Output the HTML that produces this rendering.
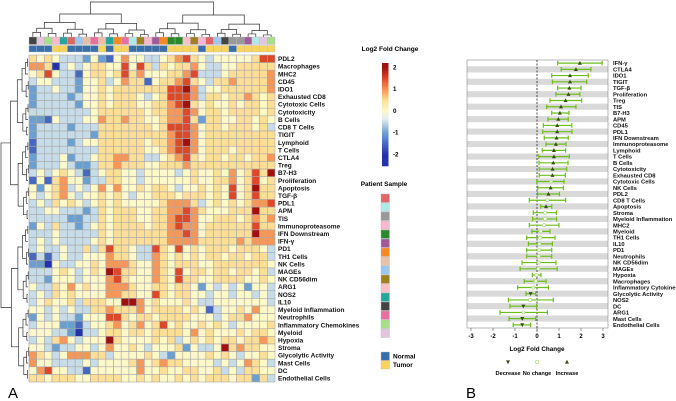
<!DOCTYPE html>
<html><head><meta charset="utf-8"><style>
html,body{margin:0;padding:0;background:#fff;}
svg{display:block;font-family:"Liberation Sans",sans-serif;}
</style></head><body>
<svg id="fig" width="676" height="401" viewBox="0 0 676 401">
<g id="heat"></g>
<g id="forest"></g>
<text x="8" y="398" font-size="15">A</text>
<text x="466" y="398" font-size="15">B</text>
</svg>
<script>
// ---------- Heatmap data ----------
const rowLabels = ["PDL2","Macrophages","MHC2","CD45","IDO1","Exhausted CD8","Cytotoxic Cells","Cytotoxicity","B Cells","CD8 T Cells","TIGIT","Lymphoid","T Cells","CTLA4","Treg","B7-H3","Proliferation","Apoptosis","TGF-β","PDL1","APM","TIS","Immunoproteasome","IFN Downstream","IFN-γ","PD1","TH1 Cells","NK Cells","MAGEs","NK CD56dim","ARG1","NOS2","IL10","Myeloid Inflammation","Neutrophils","Inflammatory Chemokines","Myeloid","Hypoxia","Stroma","Glycolytic Activity","Mast Cells","DC","Endothelial Cells"];
// values in half-units of log2 fold change (value = code/2)
const heatCodes = [
[1,0,1,0,-1,-1,-1,-2,0,-2,-3,0,2,0,0,-1,-1,0,1,2,3,1,0,-1,0,0,0,0,0,1,3,3],
[2,2,1,-4,-1,0,-1,0,1,1,0,0,3,0,3,1,-1,1,0,1,1,2,0,-1,-1,0,0,1,1,1,1,1],
[0,1,3,0,-1,-1,-3,0,1,1,0,1,3,1,2,0,0,0,1,1,2,3,-1,-1,-1,0,1,1,1,1,1,2],
[-1,0,0,-1,-1,-1,-2,0,0,1,-1,0,2,1,1,-3,0,1,1,2,3,1,0,-1,1,1,2,1,1,1,1,2],
[-2,-1,-1,0,-1,-1,-2,0,0,1,0,1,1,1,1,1,1,1,3,3,4,2,-1,0,0,1,1,1,1,1,1,2],
[-2,-1,-1,-1,-1,-2,-1,0,0,1,0,1,1,1,0,-1,0,1,3,3,3,2,-1,1,1,0,1,1,2,1,0,1],
[-2,-1,-1,-1,-1,-1,-2,0,0,1,0,1,1,1,0,0,1,1,2,3,4,1,0,1,0,0,1,0,1,1,0,1],
[-1,-1,-1,-1,-1,-1,-1,-1,0,1,1,1,1,1,1,0,1,1,2,2,3,2,0,1,1,0,1,1,1,1,0,1],
[-2,-2,-3,0,-1,-1,-1,0,0,2,1,1,2,1,1,0,0,1,2,2,3,1,-2,1,1,0,0,1,1,0,1,0],
[-2,-1,-1,-1,-1,-2,-1,-1,-1,1,1,1,1,1,1,1,0,1,3,3,3,2,0,1,1,0,1,1,1,0,1,-1],
[-2,-1,-1,-1,-1,-1,-1,-1,-2,1,1,1,1,1,1,1,1,1,2,3,3,2,0,1,1,1,1,1,1,1,1,1],
[-3,-1,-1,-1,-1,-2,-1,0,0,1,1,1,1,1,1,0,1,1,2,3,4,2,0,1,1,1,1,1,1,1,1,1],
[-3,-1,-1,-1,-1,-1,-1,-1,-1,1,1,1,1,1,1,0,0,1,2,3,3,2,0,1,1,1,0,1,1,1,1,1],
[-2,-1,-1,-1,0,-2,-1,-1,0,1,1,2,2,1,1,-1,-1,0,1,2,3,1,0,1,1,0,1,1,0,1,1,2],
[-2,-1,-1,-1,0,-1,-2,-2,-1,1,1,2,1,1,1,0,0,1,1,1,2,1,1,1,1,1,1,1,1,1,1,1],
[-1,0,-1,0,1,0,-1,-3,-1,0,1,1,0,0,-1,0,0,0,0,-1,0,1,0,0,1,0,2,0,1,3,1,4],
[-3,0,-3,1,2,0,0,-2,-1,-1,1,1,0,0,-1,0,0,0,0,0,0,1,0,0,1,1,2,0,1,3,0,1],
[0,-2,0,1,2,-1,0,-1,0,2,0,2,0,0,1,0,1,1,0,-1,0,0,1,0,1,0,3,0,1,4,1,1],
[0,-1,0,1,2,0,-1,0,0,1,0,1,0,-1,0,0,1,1,1,0,1,1,1,0,1,0,3,0,1,3,1,1],
[-1,0,-1,1,0,1,0,-1,0,1,0,1,0,0,0,0,0,1,2,2,2,1,-1,0,1,0,1,0,1,2,2,3],
[-1,-1,0,0,-1,-1,-1,-2,-1,1,0,1,1,1,0,0,1,1,2,2,3,2,1,0,0,0,1,1,1,4,1,1],
[-1,-1,-1,-1,-1,-2,-2,-1,-1,1,0,1,1,1,0,0,1,1,2,3,3,2,0,0,1,1,1,0,1,2,1,2],
[-2,0,-1,1,-1,-1,-2,-1,0,1,0,1,1,1,1,0,1,1,2,3,2,2,0,1,1,1,1,1,1,3,1,1],
[-1,-1,-1,0,-1,-1,-1,-1,-1,1,0,1,1,1,1,1,1,1,2,2,3,2,0,1,1,1,1,1,1,4,2,2],
[-1,0,-1,0,-1,-1,-1,-1,0,1,0,1,1,1,1,1,1,1,2,2,2,2,1,1,1,1,1,2,1,2,2,2],
[-1,0,-1,-1,0,-1,-1,1,-1,1,3,1,1,0,-1,-1,3,1,0,3,0,1,0,1,1,1,0,1,1,1,0,-1],
[-3,-1,-3,-1,0,-1,-1,0,0,0,2,1,1,0,-1,-1,2,1,0,1,0,1,0,1,1,0,1,1,0,1,1,-1],
[-2,-2,-4,0,-1,-1,0,0,1,0,2,2,2,1,0,0,2,1,0,1,1,1,0,0,1,1,1,1,1,1,1,0],
[-1,-1,-1,0,1,0,-1,0,1,0,4,3,1,1,0,0,2,1,0,3,0,1,1,0,1,1,0,1,1,0,1,-1],
[-1,-1,-2,0,0,0,-1,0,0,0,2,3,1,0,0,0,2,1,0,3,1,1,0,0,1,1,1,1,0,0,1,0],
[0,-1,-1,1,0,2,0,1,0,0,2,2,2,1,0,0,1,1,0,1,1,0,-2,0,-1,0,-1,0,-2,0,0,-1],
[-1,0,-1,1,0,1,0,0,0,0,2,2,1,1,0,0,3,1,0,1,1,0,0,-1,0,0,-1,0,0,-1,0,-1],
[-1,0,1,0,0,1,-1,1,1,1,0,0,4,4,2,0,1,0,0,0,1,0,-1,-1,0,0,0,0,0,0,0,-1],
[0,0,-1,0,-1,0,-1,-1,1,1,2,1,1,1,2,0,1,1,1,1,0,1,0,-3,-1,0,0,1,0,2,0,0],
[-2,0,-1,0,-1,-1,-2,0,0,0,3,3,1,0,1,1,0,1,1,1,1,0,0,0,-1,0,1,1,2,0,0,0],
[-1,0,0,0,-2,-2,-3,-1,0,0,1,2,0,1,2,0,1,3,0,1,0,0,1,0,1,0,-1,0,0,0,0,1],
[0,0,0,-1,-1,-2,-4,-1,-1,0,1,1,0,1,1,0,1,1,1,1,0,2,0,1,0,0,0,1,0,1,1,0],
[-1,0,-1,1,2,0,-1,0,0,0,4,1,0,0,0,0,1,0,1,-1,0,1,0,1,0,1,1,0,1,1,2,1],
[0,0,-1,-2,-1,-1,0,0,-1,0,2,0,0,1,0,-1,0,0,0,1,-2,0,-1,-1,0,4,1,2,1,1,0,0],
[2,1,0,-1,0,2,2,2,1,1,-1,0,0,0,0,1,0,-1,-2,0,0,0,0,1,0,1,0,-1,0,0,1,0],
[2,0,0,-1,-1,-1,-1,0,-1,0,0,0,0,1,2,0,1,2,1,1,0,0,0,0,-1,0,-1,0,2,1,0,-1],
[0,2,3,0,0,-1,-1,-3,0,0,0,0,0,0,2,0,0,1,0,0,1,1,0,0,1,-1,0,-1,1,1,0,0],
[1,1,0,1,1,1,0,0,1,1,1,1,0,0,1,0,1,0,0,1,0,1,0,1,1,1,0,1,1,-2,1,-1]
];
const sampleType = ["N","N","N","T","T","N","N","N","N","T","N","T","T","N","N","N","N","N","T","T","T","T","N","T","T","T","N","T","T","T","T","T"];
const patientColors = ["#444444","#e5c4e0","#a6e08a","#f9b7d0","#26a69a","#e06666","#9cc7ee","#e8c0a8","#e870a0","#e8c0a8","#26a69a","#f58a22","#e870a0","#b0e8e8","#a08020","#f9b7d0","#a05a9a","#f58a22","#2a8a2a","#2a8a2a","#ffc0c8","#a08020","#f9b7d0","#e06666","#9cc7ee","#444444","#999999","#999999","#a05a9a","#b0e8e8","#e5c4e0","#a6e08a"];
const legendPatients = ["#e06666","#b0e8e8","#999999","#f9b7d0","#2a8a2a","#a05a9a","#f58a22","#e8c0a8","#9cc7ee","#a08020","#ffc0c8","#26a69a","#444444","#e870a0","#a6e08a","#e5c4e0"];
const colorTicks = [2,1,0,-1,-2];

// ---------- Forest plot data ----------
const forestLabels = ["IFN-γ","CTLA4","IDO1","TIGIT","TGF-β","Proliferation","Treg","TIS","B7-H3","APM","CD45","PDL1","IFN Downstream","Immunoproteasome","Lymphoid","T Cells","B Cells","Cytotoxicity","Exhausted CD8","Cytotoxic Cells","NK Cells","PDL2","CD8 T Cells","Apoptosis","Stroma","Myeloid Inflammation","MHC2","Myeloid","TH1 Cells","IL10","PD1","Neutrophils","NK CD56dim","MAGEs","Hypoxia","Macrophages","Inflammatory Cytokines","Glycolytic Activity","NOS2","DC","ARG1","Mast Cells","Endothelial Cells"];
const forestEst = [1.95,1.77,1.5,1.5,1.47,1.43,1.3,1.09,1.04,0.97,0.92,0.92,0.89,0.86,0.77,0.77,0.74,0.71,0.7,0.64,0.62,0.52,0.47,0.41,0.37,0.37,0.32,0.17,0.14,0.11,0.09,0.08,0.08,0.06,-0.02,-0.06,-0.17,-0.29,-0.32,-0.62,-0.62,-0.67,-0.67];
const forestLo = [0.94,1.1,0.67,0.7,0.94,0.86,0.59,0.44,0.67,0.5,0.29,0.26,0.33,0.41,0.24,0.08,0.09,0.1,0.1,-0.01,0.04,0.03,-0.35,0.17,-0.17,-0.2,-0.35,-0.23,-0.47,-0.39,-0.47,-0.47,-0.68,-0.77,-0.21,-0.58,-0.88,-0.5,-1.3,-1.23,-1.68,-1.27,-1.08];
const forestHi = [2.96,2.45,2.33,2.26,2.0,1.95,2.03,1.77,1.45,1.42,1.58,1.59,1.42,1.32,1.3,1.47,1.41,1.35,1.29,1.23,1.2,1.02,1.3,0.67,0.88,0.89,1.0,0.59,0.82,0.7,0.67,0.67,0.86,0.92,0.18,0.41,0.52,-0.06,0.74,-0.02,0.47,-0.06,-0.29];
const xTicks = [-3,-2,-1,0,1,2,3];

const NS = "http://www.w3.org/2000/svg";
function mk(parent, tag, attrs, text) {
  const e = document.createElementNS(NS, tag);
  for (const k in attrs) e.setAttribute(k, attrs[k]);
  if (text !== undefined) e.textContent = text;
  parent.appendChild(e);
  return e;
}
const stops = [[-2,[34,51,170]],[-1,[106,159,208]],[-0.35,[226,238,240]],[0,[253,248,200]],[0.5,[253,222,150]],[1,[245,150,90]],[1.5,[222,72,42]],[2,[160,16,16]]];
function colorOf(v) {
  if (v <= stops[0][0]) return "rgb(" + stops[0][1] + ")";
  for (let i = 1; i < stops.length; i++) {
    if (v <= stops[i][0]) {
      const a = stops[i-1], b = stops[i], t = (v - a[0]) / (b[0] - a[0]);
      const c = a[1].map((x, j) => Math.round(x + (b[1][j] - x) * t));
      return "rgb(" + c + ")";
    }
  }
  return "rgb(" + stops[stops.length-1][1] + ")";
}

// ---------- Heatmap ----------
const H = document.getElementById("heat");
const hx0 = 29, hx1 = 275, hy0 = 55, hy1 = 382;
const nCols = heatCodes[0].length, nRows = rowLabels.length;
const cw = (hx1 - hx0) / nCols, ch = (hy1 - hy0) / nRows;
const colX = c => hx0 + c * cw;
const rowY = r => hy0 + r * ch;

// dendrograms (decorative)
function dendTop(lo, hi, top) {
  if (hi - lo < 1) return { x: colX(lo) + cw / 2, y: 37 };
  const mid = Math.floor((lo + hi) / 2);
  const y = top;
  const nt = top + (37 - top) * 0.3 + 1.5;
  const a = dendTop(lo, mid, nt), b = dendTop(mid + 1, hi, nt + 1);
  const p = mk(H, "path", { d: `M${a.x},${a.y}V${y}H${b.x}V${b.y}`, fill: "none", stroke: "#333", "stroke-width": 0.7 });
  
  
  return { x: (a.x + b.x) / 2, y };
}
dendTop(0, nCols - 1, 2);
function dendLeft(lo, hi, left) {
  if (hi - lo < 1) return { x: 28, y: rowY(lo) + ch / 2 };
  const mid = Math.floor((lo + hi) / 2);
  const nl = left + (28 - left) * 0.3 + 1.5;
  const a = dendLeft(lo, mid, nl), b = dendLeft(mid + 1, hi, nl + 0.8);
  const p = mk(H, "path", { d: `M${a.x},${a.y}H${left}V${b.y}H${b.x}`, fill: "none", stroke: "#333", "stroke-width": 0.7 });
  
  
  return { x: left, y: (a.y + b.y) / 2 };
}
dendLeft(0, nRows - 1, 1);

// annotations
for (let c = 0; c < nCols; c++) {
  const a = mk(H, "rect", { x: colX(c), y: 37, width: cw, height: 7.5, fill: patientColors[c], stroke: "#bbb", "stroke-width": 0.4 });
  
  
  const b = mk(H, "rect", { x: colX(c), y: 45.5, width: cw, height: 6.5, fill: sampleType[c] === "N" ? "#3a6ea8" : "#f9d45c", stroke: "#bbb", "stroke-width": 0.4 });
  
  
}
// cells
for (let r = 0; r < nRows; r++) {
  for (let c = 0; c < nCols; c++) {
    const e = mk(H, "rect", { x: colX(c), y: rowY(r), width: cw, height: ch, fill: colorOf(heatCodes[r][c] / 2), stroke: "#a8a8a8", "stroke-width": 0.6 });
    
    
  }
  const t = mk(H, "text", { x: 278, y: rowY(r) + ch / 2 + 2.3, "font-size": 6.5, "font-weight": "bold", fill: "#111" }, rowLabels[r]);
  
  
}
// color legend
const lt = mk(H, "text", { x: 390, y: 51, "font-size": 6.5, "font-weight": "bold", "text-anchor": "middle" }, "Log2 Fold Change");


const cbTop = 63, cbBot = 166, cbV = v => 67 + (2 - v) * 21.75;
for (let i = 0; i < 60; i++) {
  const y = cbTop + i * (cbBot - cbTop) / 60;
  const v = 2 - (y - 67) / 21.75;
  const s = mk(H, "rect", { x: 382, y: y, width: 6.5, height: (cbBot - cbTop) / 60 + 0.3, fill: colorOf(Math.max(-2.2, Math.min(2.2, v))) });
  
  
}
colorTicks.forEach(v => {
  const t = mk(H, "text", { x: 393, y: cbV(v) + 2.3, "font-size": 6.2, "font-weight": "bold" }, String(v));
  
  
});
const pt = mk(H, "text", { x: 384, y: 186, "font-size": 6.5, "font-weight": "bold", "text-anchor": "middle" }, "Patient Sample");


legendPatients.forEach((col, i) => {
  const s = mk(H, "rect", { x: 381, y: 194 + i * 9, width: 8.5, height: 8.5, fill: col, stroke: "#bbb", "stroke-width": 0.4 });
  
  
});
[["Normal", "#3a6ea8", 352], ["Tumor", "#f9d45c", 360.5]].forEach(([lab, col, y]) => {
  const s = mk(H, "rect", { x: 381, y: y, width: 8.5, height: 8.5, fill: col, stroke: "#bbb", "stroke-width": 0.4 });
  
  
  const t = mk(H, "text", { x: 393, y: y + 6.3, "font-size": 6.5, "font-weight": "bold" }, lab);
  
  
});

// ---------- Forest plot ----------
const F = document.getElementById("forest");
const fx0 = 467, fx1 = 608, fy0 = 60, fy1 = 328;
const xs = v => 537 + v * 22;
const rh = (fy1 - fy0) / forestLabels.length;
const ys = i => fy0 + (i + 0.5) * rh;
forestLabels.forEach((lab, i) => {
  const s = mk(F, "rect", { x: fx0, y: fy0 + i * rh, width: fx1 - fx0, height: rh, fill: i % 2 ? "#d9d9d9" : "#ffffff" });
  
  
  const t = mk(F, "text", { x: 613, y: ys(i) + 2.1, "font-size": 5.8, "font-weight": "bold", fill: "#111" }, lab);
  
  
});
const fb = mk(F, "rect", { x: fx0, y: fy0, width: fx1 - fx0, height: fy1 - fy0, fill: "none", stroke: "#888", "stroke-width": 0.6 });


const zl = mk(F, "line", { x1: xs(0), x2: xs(0), y1: fy0, y2: fy1 + 4, stroke: "#222", "stroke-width": 0.8, "stroke-dasharray": "2,1.5" });


xTicks.forEach(v => {
  const l = mk(F, "line", { x1: xs(v), x2: xs(v), y1: fy1, y2: fy1 + 3, stroke: "#555", "stroke-width": 0.6 });
  
  
  const t = mk(F, "text", { x: xs(v), y: 338, "font-size": 6, "font-weight": "bold", "text-anchor": "middle" }, String(v));
  
  
});
const xt = mk(F, "text", { x: 537, y: 351, "font-size": 6.3, "font-weight": "bold", "text-anchor": "middle" }, "Log2 Fold Change");


const G = "#6cbf1a";
function marker(x, y, kind, name) {
  let e;
  if (kind === "up") e = mk(F, "path", { d: `M${x},${y-2.2}L${x+2},${y+1.6}L${x-2},${y+1.6}Z`, fill: "#3a4a10" });
  else if (kind === "down") e = mk(F, "path", { d: `M${x},${y+2.2}L${x+2},${y-1.6}L${x-2},${y-1.6}Z`, fill: "#3a4a10" });
  else e = mk(F, "circle", { cx: x, cy: y, r: 1.6, fill: "#fff", stroke: "#a8e070", "stroke-width": 0.7 });
  
  
}
forestLabels.forEach((lab, i) => {
  const y = ys(i), lo = xs(forestLo[i]), hi = xs(forestHi[i]);
  const l = mk(F, "path", { d: `M${lo},${y}H${hi}M${lo},${y-2.3}V${y+2.3}M${hi},${y-2.3}V${y+2.3}`, stroke: G, "stroke-width": 1.2, fill: "none" });
  
  
  const kind = forestLo[i] > 0 ? "up" : (forestHi[i] < 0 ? "down" : "none");
  marker(xs(forestEst[i]), y, kind, 'estimate-marker');
});
[["Decrease", 508, "down"], ["No change", 537, "none"], ["Increase", 567, "up"]].forEach(([lab, x, k]) => {
  marker(x, 362, k, 'legend-marker');
  const t = mk(F, "text", { x: x, y: 375, "font-size": 5.6, "font-weight": "bold", "text-anchor": "middle" }, lab);
  
  
});
</script>
</body></html>
